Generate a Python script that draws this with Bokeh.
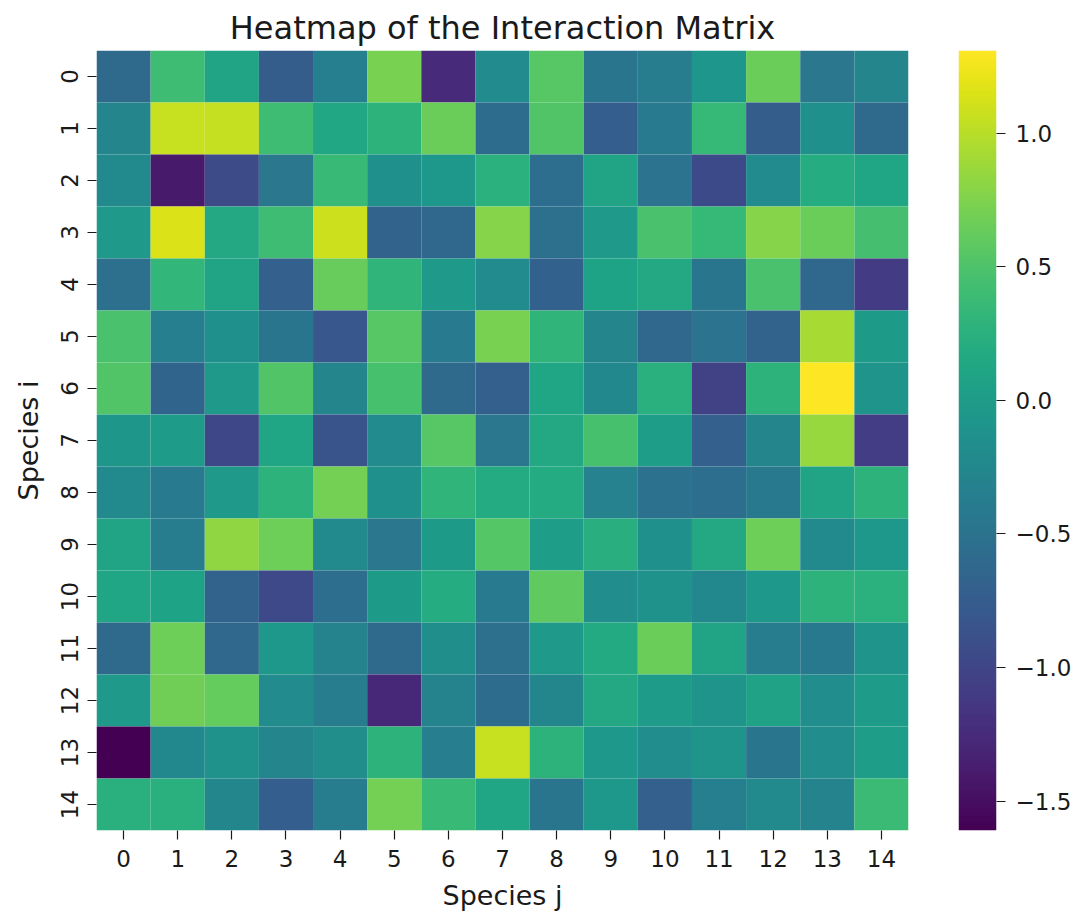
import numpy as np
from bokeh.plotting import figure
from bokeh.layouts import row
from bokeh.models import (ColumnDataSource, LinearColorMapper, FixedTicker,
                          Range1d, CustomJSTickFormatter)
from bokeh.palettes import Viridis256
from bokeh.embed import file_html
from bokeh.resources import INLINE

species = [str(i) for i in range(15)]

row_0 = [-0.60, 0.40, 0.10, -0.75, -0.35, 0.72, -1.25, -0.20, 0.55, -0.48, -0.38, -0.08, 0.65, -0.45, -0.28]
row_1 = [-0.28, 1.07, 1.05, 0.40, 0.13, 0.28, 0.65, -0.58, 0.52, -0.74, -0.40, 0.35, -0.75, -0.15, -0.60]
row_2 = [-0.22, -1.40, -0.93, -0.45, 0.37, -0.15, -0.05, 0.26, -0.55, 0.10, -0.50, -0.95, -0.20, 0.20, 0.12]
row_3 = [-0.03, 1.16, 0.15, 0.40, 1.09, -0.68, -0.62, 0.78, -0.53, -0.03, 0.47, 0.35, 0.78, 0.65, 0.45]
row_4 = [-0.53, 0.32, 0.10, -0.72, 0.63, 0.30, -0.04, -0.20, -0.70, 0.08, 0.15, -0.48, 0.47, -0.62, -1.10]
row_5 = [0.47, -0.35, -0.15, -0.48, -0.82, 0.55, -0.40, 0.72, 0.30, -0.28, -0.62, -0.50, -0.68, 0.93, -0.02]
row_6 = [0.52, -0.67, -0.03, 0.52, -0.28, 0.46, -0.60, -0.72, 0.12, -0.25, 0.24, -1.04, 0.28, 1.31, -0.10]
row_7 = [-0.06, -0.01, -0.98, 0.12, -0.85, -0.20, 0.55, -0.45, 0.15, 0.46, 0.02, -0.72, -0.28, 0.86, -1.08]
row_8 = [-0.22, -0.42, -0.03, 0.28, 0.70, -0.15, 0.30, 0.19, 0.19, -0.32, -0.52, -0.55, -0.43, 0.09, 0.28]
row_9 = [0.10, -0.38, 0.82, 0.66, -0.22, -0.45, -0.02, 0.54, 0.03, 0.22, -0.15, 0.15, 0.67, -0.22, -0.05]
row_10 = [0.12, 0.08, -0.68, -0.97, -0.55, -0.02, 0.20, -0.42, 0.60, -0.18, -0.12, -0.25, -0.05, 0.28, 0.26]
row_11 = [-0.60, 0.66, -0.62, -0.05, -0.30, -0.60, -0.16, -0.53, -0.03, 0.18, 0.65, 0.09, -0.37, -0.43, -0.10]
row_12 = [-0.03, 0.68, 0.62, -0.20, -0.38, -1.27, -0.30, -0.58, -0.27, 0.15, 0.00, -0.10, 0.07, -0.18, 0.00]
row_13 = [-1.61, -0.25, -0.12, -0.28, -0.17, 0.28, -0.36, 1.07, 0.28, -0.05, -0.18, -0.10, -0.48, -0.18, 0.02]
row_14 = [0.24, 0.24, -0.27, -0.74, -0.38, 0.70, 0.36, 0.12, -0.48, -0.05, -0.72, -0.35, -0.22, -0.30, 0.38]

rows = [row_0, row_1, row_2, row_3, row_4, row_5, row_6, row_7, row_8, row_9,
        row_10, row_11, row_12, row_13, row_14]

cbar_ticks = [1.0, 0.5, 0.0, -0.5, -1.0, -1.5]

xs, ys, vals = [], [], []
for i, r in enumerate(rows):
    for j, v in enumerate(r):
        xs.append(j)
        ys.append(i)
        vals.append(v)
vmin = min(vals)
vmax = max(vals)

source = ColumnDataSource(dict(x=xs, y=ys, v=vals))
mapper = LinearColorMapper(palette=Viridis256, low=vmin, high=vmax)

FONT = "DejaVu Sans"
TXT = "#1a1a1a"
TICK_FS = "23px"
LABEL_FS = "27px"

p = figure(width=958, height=918, output_backend="svg", toolbar_location=None,
           x_range=Range1d(-0.5, 14.5), y_range=Range1d(14.5, -0.5),
           min_border_left=96, min_border_top=50, min_border_bottom=88,
           min_border_right=50,
           title="Heatmap of the Interaction Matrix")
p.rect(x="x", y="y", width=1, height=1, source=source,
       fill_color={"field": "v", "transform": mapper}, line_color=None)

p.title.align = "center"
p.title.text_font = FONT
p.title.text_font_style = "normal"
p.title.text_font_size = "32px"
p.title.text_color = TXT
p.title.standoff = 8

p.grid.visible = False
p.outline_line_color = None

for ax in (p.xaxis[0], p.yaxis[0]):
    ax.ticker = FixedTicker(ticks=list(range(15)))
    ax.major_label_overrides = {i: species[i] for i in range(15)}
    ax.axis_line_color = None
    ax.minor_tick_line_color = None
    ax.major_tick_in = 0
    ax.major_tick_out = 9
    ax.major_tick_line_color = TXT
    ax.major_tick_line_width = 1.2
    ax.major_label_text_font = FONT
    ax.major_label_text_font_size = TICK_FS
    ax.major_label_text_color = TXT
    ax.axis_label_text_font = FONT
    ax.axis_label_text_font_size = LABEL_FS
    ax.axis_label_text_font_style = "normal"
    ax.axis_label_text_color = TXT

p.xaxis.major_label_standoff = 10
p.xaxis.axis_label_standoff = 10
p.yaxis.major_label_standoff = 10
p.yaxis.axis_label_standoff = 14

p.xaxis.axis_label = "Species j"
p.yaxis.axis_label = "Species i"
p.yaxis.major_label_orientation = "vertical"

# colour bar as its own small figure
cb = figure(width=132, height=918, output_backend="svg", toolbar_location=None,
            x_range=Range1d(0, 1), y_range=Range1d(vmin, vmax),
            x_axis_location=None, y_axis_location="right",
            min_border_left=0, min_border_right=94, min_border_top=50,
            min_border_bottom=88)
grad = np.linspace(vmin, vmax, 512).reshape(512, 1)
cb.image(image=[grad], x=0, y=vmin, dw=1, dh=vmax - vmin, color_mapper=mapper)
cb.grid.visible = False
cb.outline_line_color = None
ya = cb.yaxis[0]
ya.ticker = FixedTicker(ticks=cbar_ticks)
ya.formatter = CustomJSTickFormatter(code="return tick.toFixed(1).replace('-', '\u2212');")
ya.axis_line_color = None
ya.minor_tick_line_color = None
ya.major_tick_in = 0
ya.major_tick_out = 9
ya.major_tick_line_color = TXT
ya.major_tick_line_width = 1.2
ya.major_label_standoff = 10
ya.major_label_text_font = FONT
ya.major_label_text_font_size = TICK_FS
ya.major_label_text_color = TXT

layout = row(p, cb)
open("out.html", "w").write(file_html(layout, INLINE))
